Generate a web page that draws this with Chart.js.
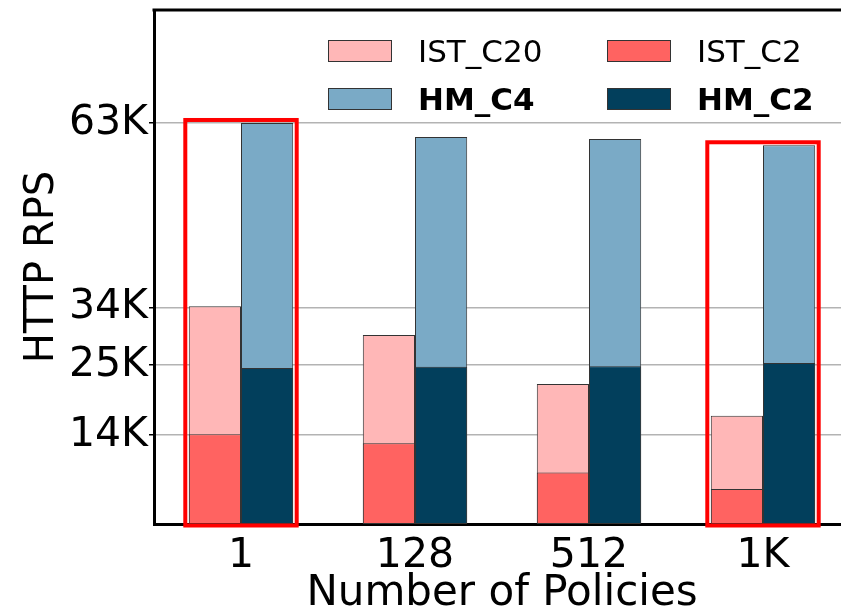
<!DOCTYPE html>
<html>
<head>
<meta charset="utf-8">
<script src="https://cdn.jsdelivr.net/npm/chart.js@4.4.1/dist/chart.umd.min.js"></script>
<style>
    html, body { margin: 0; padding: 0; overflow: hidden; background: #fff; }
    #rpsChart { display: block; }
</style>
</head>
<body>
<canvas id="rpsChart" width="850" height="613"></canvas>
<script>
    const categories = ["1", "128", "512", "1K"];
    const istC20 = [34200, 29700, 22000, 17000];
    const istC2 = [14100, 12700, 8100, 5500];
    const hmC4 = [63000, 60800, 60500, 59500];
    const hmC2 = [24500, 24700, 24800, 25300];
    const yTicks = [14000, 25000, 34000, 63000];
    const highlighted = ["1", "1K"];

    const FONT = "'DejaVu Sans', sans-serif";

    // legend drawn by hand: matplotlib style, two columns, bold HM labels
    const legendPlugin = {
        id: "legendBoxes",
        afterDraw(chart) {
            const { ctx, chartArea } = chart;
            const items = [
                { ds: 0, col: 0, row: 0, bold: false },
                { ds: 1, col: 1, row: 0, bold: false },
                { ds: 2, col: 0, row: 1, bold: true },
                { ds: 3, col: 1, row: 1, bold: true }
            ];
            ctx.save();
            items.forEach(it => {
                const ds = chart.data.datasets[it.ds];
                const bx = chartArea.left + 174 + it.col * 279;
                const by = chartArea.top + 30 + it.row * 48;
                ctx.fillStyle = ds.backgroundColor;
                ctx.fillRect(bx, by, 64, 22);
                ctx.strokeStyle = "#333";
                ctx.lineWidth = 1;
                ctx.strokeRect(bx + 0.5, by + 0.5, 63, 21);
                ctx.fillStyle = "#000";
                ctx.font = (it.bold ? "bold " : "") + "31px " + FONT;
                ctx.textBaseline = "alphabetic";
                ctx.fillText(ds.label, bx + 90, by + 22);
            });
            ctx.restore();
        }
    };

    // red boxes around highlighted groups + top spine
    const framePlugin = {
        id: "frames",
        afterDatasetsDraw(chart) {
            const { ctx, chartArea, scales } = chart;
            ctx.save();
            ctx.strokeStyle = "#000";
            ctx.lineWidth = 3;
            ctx.beginPath();
            ctx.moveTo(chartArea.left - 1.5, chartArea.top);
            ctx.lineTo(chartArea.right, chartArea.top);
            ctx.stroke();

            ctx.strokeStyle = "#ff0000";
            ctx.lineWidth = 4;
            highlighted.forEach(cat => {
                const i = categories.indexOf(cat);
                let l = Infinity, r = -Infinity, t = Infinity;
                chart.data.datasets.forEach((_, d) => {
                    const el = chart.getDatasetMeta(d).data[i];
                    l = Math.min(l, el.x - el.width / 2);
                    r = Math.max(r, el.x + el.width / 2);
                    t = Math.min(t, el.y);
                });
                const b = scales.y.getPixelForValue(0) + 1.5;
                ctx.strokeRect(l - 3.5, t - 3, r - l + 7, b - t + 3);
            });
            ctx.restore();
        }
    };

    function makeSet(label, data, color, stack, order) {
        return {
            label: label,
            data: data,
            backgroundColor: color,
            borderColor: "#333",
            borderWidth: 1,
            borderSkipped: false,
            stack: stack,
            order: order,
            categoryPercentage: 0.6,
            barPercentage: 1.0
        };
    }

    new Chart(document.getElementById("rpsChart"), {
        type: "bar",
        data: {
            labels: categories,
            datasets: [
                makeSet("IST_C20", istC20, "#ffb7b7", "IST", 1),
                makeSet("IST_C2", istC2, "#ff6361", "IST", 0),
                makeSet("HM_C4", hmC4, "#7aaac6", "HM", 1),
                makeSet("HM_C2", hmC2, "#023f5c", "HM", 0)
            ]
        },
        options: {
            responsive: false,
            animation: false,
            layout: { padding: { left: 0, top: 10, right: 0, bottom: 0 } },
            plugins: {
                legend: { display: false },
                tooltip: { enabled: false }
            },
            scales: {
                x: {
                    stacked: true,
                    grid: { display: false, drawTicks: true, tickLength: 6 },
                    border: { display: true, color: "#000", width: 3 },
                    ticks: { color: "#000", font: { family: FONT, size: 41 }, padding: 2 },
                    title: {
                        display: true,
                        text: "Number of Policies",
                        color: "#000",
                        font: { family: FONT, size: 42, lineHeight: 0.9 },
                        padding: 0
                    },
                    afterFit: s => { s.height = 89; s.paddingLeft = 0; s.paddingRight = 0; }
                },
                y: {
                    stacked: false,
                    min: 0,
                    max: 80750,
                    afterBuildTicks: s => { s.ticks = yTicks.map(v => ({ value: v })); },
                    grid: {
                        color: "#b3b3b3",
                        lineWidth: 1.5,
                        tickColor: "#000",
                        tickLength: 5,
                        tickWidth: 1.5
                    },
                    border: { display: true, color: "#000", width: 3 },
                    ticks: {
                        color: "#000",
                        font: { family: FONT, size: 41 },
                        padding: 1,
                        callback: v => (v / 1000) + "K"
                    },
                    title: {
                        display: true,
                        text: "HTTP RPS",
                        color: "#000",
                        font: { family: FONT, size: 40, lineHeight: 1 },
                        padding: { top: 23 }
                    },
                    afterFit: s => { s.width = 154; s.paddingTop = 0; s.paddingBottom = 0; }
                }
            }
        },
        plugins: [framePlugin, legendPlugin]
    });
</script>
</body>
</html>
